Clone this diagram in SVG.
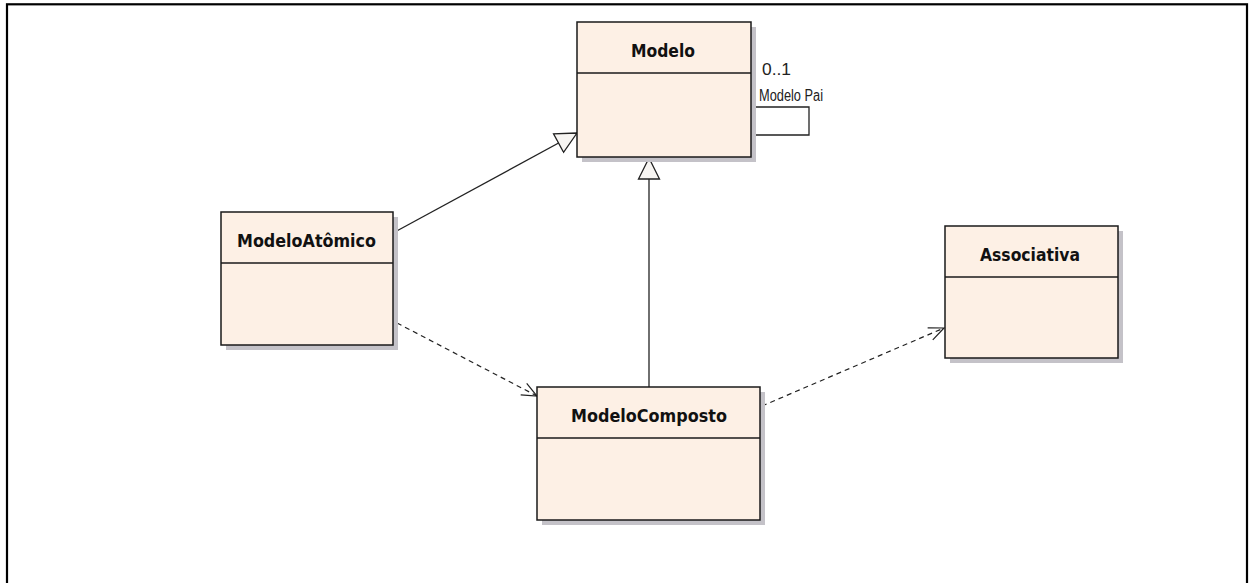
<svg xmlns="http://www.w3.org/2000/svg" width="1250" height="583" viewBox="0 0 1250 583">
  <style>
    .shadow { fill: #c4c2c8; }
    .box { fill: #fdf0e5; stroke: #1a1a1a; stroke-width: 1.5; }
    .div { stroke: #1a1a1a; stroke-width: 1.5; }
    .title { font-family: "DejaVu Sans", "Liberation Sans", sans-serif; font-weight: bold; font-size: 17px; fill: #111; text-anchor: middle; }
    .lbl { font-family: "Liberation Sans", "DejaVu Sans", sans-serif; font-size: 16px; fill: #222; }
    .line { fill: none; stroke: #222; stroke-width: 1.3; }
    .dash { fill: none; stroke: #222; stroke-width: 1.2; stroke-dasharray: 5 4; }
  </style>
  <defs>
    <marker id="gen" markerUnits="userSpaceOnUse" viewBox="-22 -12 24 24" refX="0" refY="0" markerWidth="24" markerHeight="24" orient="auto">
      <path d="M0,0 L-21,-10.5 L-21,10.5 Z" fill="#f7f5f2" stroke="#222" stroke-width="1.3"/>
    </marker>
    <marker id="open" markerUnits="userSpaceOnUse" viewBox="-18 -10 20 20" refX="0" refY="0" markerWidth="20" markerHeight="20" orient="auto">
      <path d="M-15,-6.5 L0,0 L-15,6.5" fill="none" stroke="#222" stroke-width="1.2"/>
    </marker>
  </defs>

  <rect x="0" y="0" width="1250" height="583" fill="#ffffff"/>
  <!-- frame -->
  <rect x="7" y="4.3" width="1240" height="600" fill="none" stroke="#000" stroke-width="2.2"/>

  <g id="connectors">
    <!-- ModeloAtomico generalizes Modelo -->
    <path class="line" d="M393,233 L577,133" marker-end="url(#gen)"/>
    <!-- ModeloComposto generalizes Modelo -->
    <path class="line" d="M649,387 L649,158" marker-end="url(#gen)"/>
    <!-- self association on Modelo -->
    <path class="line" d="M751,107 L809,107 L809,135 L751,135"/>
    <!-- dependencies -->
    <path class="dash" d="M397,323 L537,396" marker-end="url(#open)"/>
    <path class="dash" d="M762,406 L944,328" marker-end="url(#open)"/>
    <text class="lbl" x="762" y="75" textLength="29" lengthAdjust="spacingAndGlyphs">0..1</text>
    <text class="lbl" x="759" y="101" textLength="64" lengthAdjust="spacingAndGlyphs">Modelo Pai</text>
  </g>

  <g id="modelo">
    <rect class="shadow" x="582" y="27" width="174" height="135"/>
    <rect class="box" x="577" y="22" width="174" height="135"/>
    <line class="div" x1="577" y1="73" x2="751" y2="73"/>
    <text class="title" x="663" y="57" textLength="64" lengthAdjust="spacingAndGlyphs">Modelo</text>
  </g>

  <g id="modeloatomico">
    <rect class="shadow" x="226" y="217" width="172" height="133"/>
    <rect class="box" x="221" y="212" width="172" height="133"/>
    <line class="div" x1="221" y1="263" x2="393" y2="263"/>
    <text class="title" x="306.5" y="247" textLength="139" lengthAdjust="spacingAndGlyphs">ModeloAtômico</text>
  </g>

  <g id="modelocomposto">
    <rect class="shadow" x="542" y="392" width="223" height="133"/>
    <rect class="box" x="537" y="387" width="223" height="133"/>
    <line class="div" x1="537" y1="438" x2="760" y2="438"/>
    <text class="title" x="649" y="422" textLength="156" lengthAdjust="spacingAndGlyphs">ModeloComposto</text>
  </g>

  <g id="associativa">
    <rect class="shadow" x="950" y="231" width="173" height="132"/>
    <rect class="box" x="945" y="226" width="173" height="132"/>
    <line class="div" x1="945" y1="277" x2="1118" y2="277"/>
    <text class="title" x="1030" y="261" textLength="100" lengthAdjust="spacingAndGlyphs">Associativa</text>
  </g>
</svg>
